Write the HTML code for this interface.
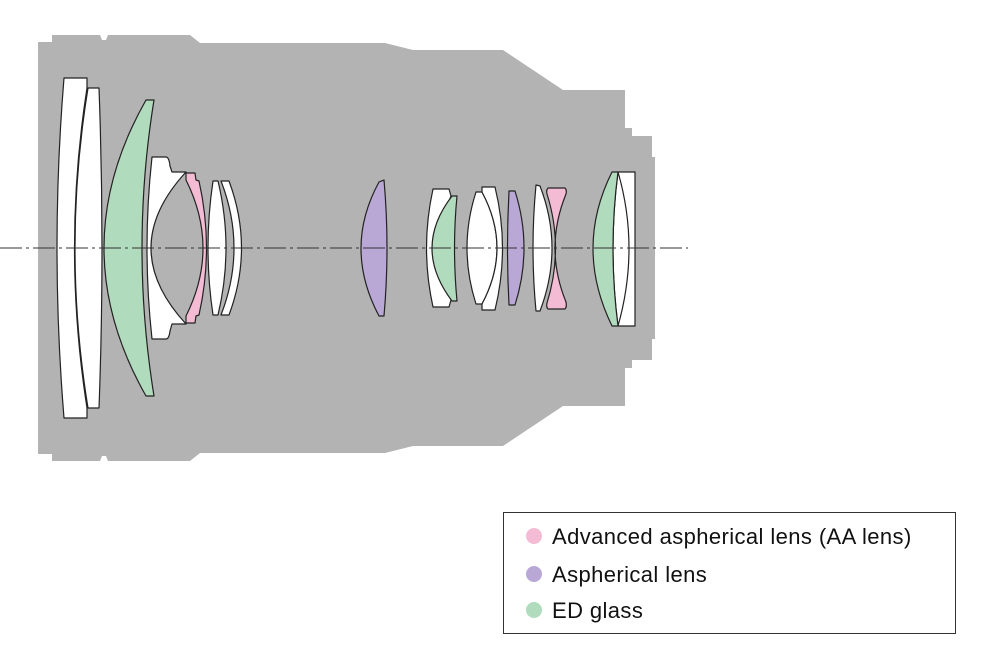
<!DOCTYPE html>
<html><head><meta charset="utf-8"><style>
html,body{margin:0;padding:0;background:#fff;}
svg{display:block;}
text{font-family:"Liberation Sans",sans-serif;font-size:22px;letter-spacing:0.4px;fill:#111;}
</style></head><body>
<svg width="999" height="657" viewBox="0 0 999 657" xmlns="http://www.w3.org/2000/svg">
<path fill="#b3b3b3" d="M38,42 L52,42 L52,35 L100,35 L102,40 L106,40 L108,35 L190,35 L200,43 L385,43 L413,50 L503,50 L563,90 L625,90 L625,128 L632,128 L632,136 L652,136 L652,157 L655,157 L655,339 L652,339 L652,360 L632,360 L632,368 L625,368 L625,406 L563,406 L503,446 L413,446 L385,453 L200,453 L190,461 L108,461 L106,456 L102,456 L100,461 L52,461 L52,454 L38,454 Z"/>
<g stroke="#222" stroke-width="1.2" stroke-linejoin="round">
<path fill="#fff" d="M64,78 L87,78 L87,88 Q62,248 87,408 L87,418 L64,418 Q50,248 64,78 Z"/>
<path fill="#fff" d="M88,88 L99,88 Q105,248 99,408 L88,408 Q62,248 88,88 Z"/>
<path fill="#b1dbbd" d="M146,100 L154,100 Q130,248 154,396 L146,396 Q62,248 146,100 Z"/>
<path fill="#fff" d="M152,157 L166,157 Q169,157 170,166 L172,172 L186,172 Q116,248 186,324 L172,324 L170,331 Q169,339 166,339 L152,339 Q142,248 152,157 Z"/>
<path fill="#f4bcd4" d="M186,173 L195,173 L196,180 L199,181 Q214,248 199,315 L196,316 L195,323 L186,323 L186,316 Q220,248 186,180 Z"/>
<path fill="#fff" d="M213,181 L218,181 Q234,248 218,315 L213,315 Q203,248 213,181 Z"/>
<path fill="#fff" d="M221,181 L229,181 Q254,248 229,315 L221,315 Q247,248 221,181 Z"/>
<path fill="#b9a8d6" d="M379,182 L384,180 Q390,248 384,316 L379,316 Q343,248 379,182 Z"/>
<path fill="#fff" d="M433,189 L449,189 L451,196 Q430,248 451,300 L449,307 L433,307 Q420,248 433,189 Z"/>
<path fill="#b1dbbd" d="M452,196 L457,196 Q452,248 457,301 L452,301 Q412,248 452,196 Z"/>
<path fill="#fff" d="M476,192 L482,192 Q512,248 482,304 L476,304 Q458,248 476,192 Z"/>
<path fill="#fff" d="M482,187 L495,187 Q510,248 495,310 L482,310 L482,304 Q512,248 482,192 Z"/>
<path fill="#b9a8d6" d="M509,191 L515,191 Q533,248 515,305 L509,305 Q506,248 509,191 Z"/>
<path fill="#fff" d="M536,185 L540,186 Q564,248 540,311 L536,311 Q530,248 536,185 Z"/>
<path fill="#f4bcd4" d="M548,188 L565,188 Q567,190 566,194 Q544,248 566,302 Q567,307 565,309 L548,309 Q546,307 547,303 Q564,248 547,194 Q546,190 548,188 Z"/>
<path fill="#fff" d="M618,172 L635,172 L635,326 L618,326 Q608,248 618,172 Z"/>
<path fill="none" d="M618,172 Q640,248 618,326"/>
<path fill="#b1dbbd" d="M612,172 L618,172 Q608,248 618,326 L612,326 Q574,248 612,172 Z"/>
</g>
<line x1="0" y1="248" x2="688" y2="248" stroke="#333" stroke-width="1" stroke-dasharray="22 4 3 4"/>
<rect x="503.5" y="512.5" width="452" height="121" fill="#fff" stroke="#333" stroke-width="1"/>
<circle cx="534" cy="536" r="8" fill="#f4bcd4"/>
<circle cx="534" cy="574" r="8" fill="#b9a8d6"/>
<circle cx="534" cy="610" r="8" fill="#b1dbbd"/>
<text x="552" y="544">Advanced aspherical lens (AA lens)</text>
<text x="552" y="582">Aspherical lens</text>
<text x="552" y="618">ED glass</text>
</svg>
</body></html>
